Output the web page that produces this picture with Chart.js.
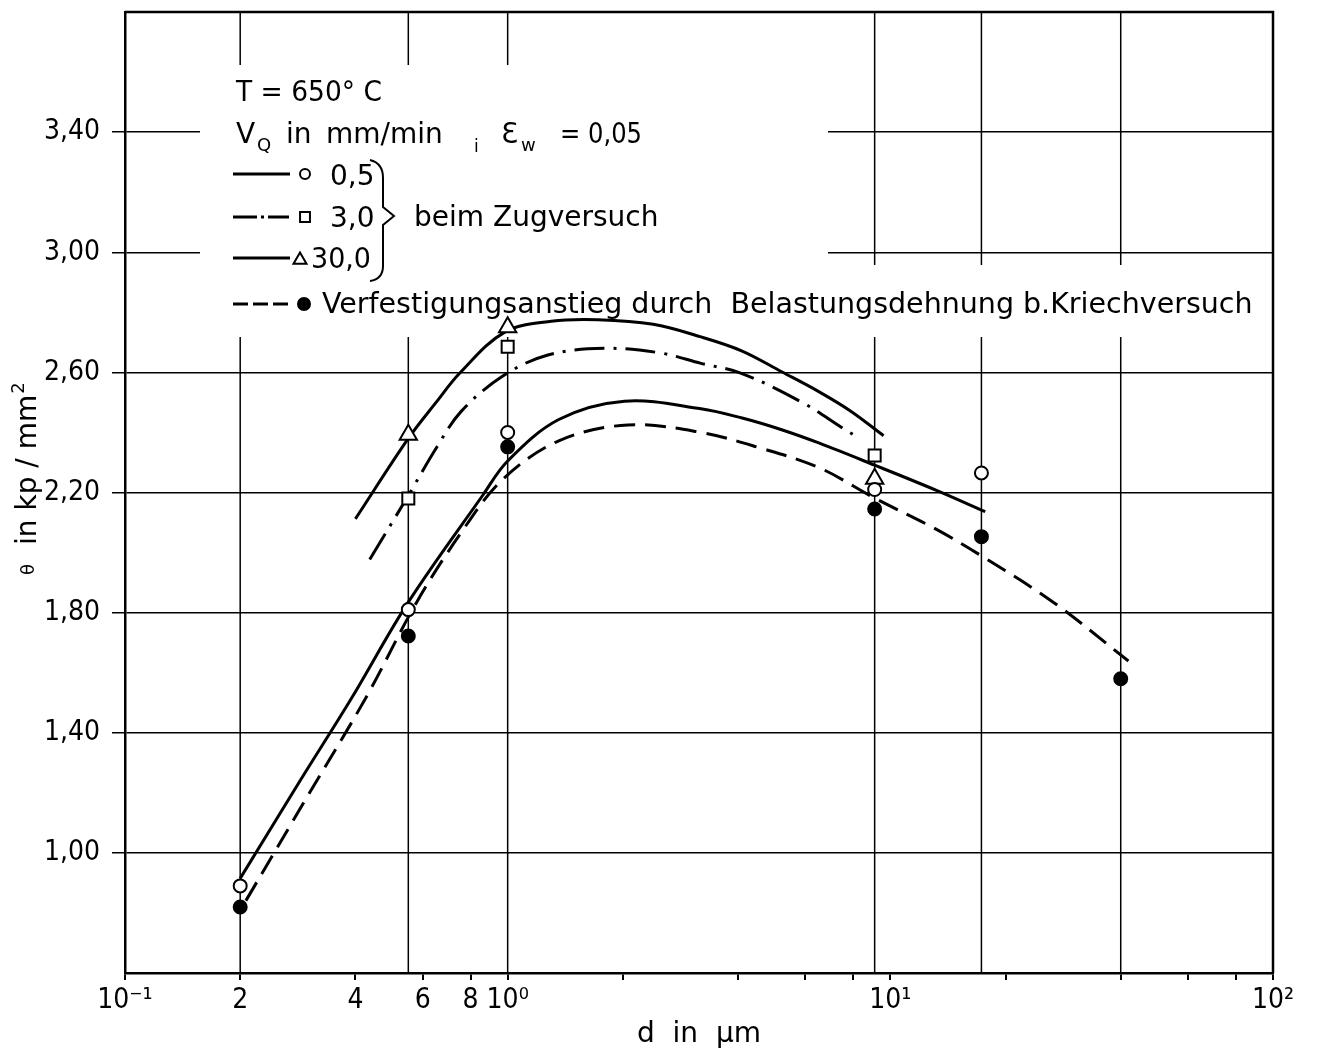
<!DOCTYPE html>
<html lang="de">
<head>
<meta charset="UTF-8">
<title>Verfestigungsanstieg über Korngröße</title>
<script src="https://cdn.jsdelivr.net/npm/chart.js@4.4.1/dist/chart.umd.min.js"></script>
<style>
    html, body { margin: 0; padding: 0; background: #fff; }
    #wrap { width: 1319px; height: 1057px; }
</style>
</head>
<body>
<div id="wrap"><canvas id="myChart"></canvas></div>
<script>
    // grain sizes d in µm of the specimens (one vertical line each)
    var dProben = [0.2, 0.55, 1.0, 9.1, 17.3, 40];

    // measured theta in kp/mm², null = no specimen at that size
    var thetaV05 = [0.89, 1.81, 2.40, 2.21, 2.265, null];
    var thetaV3 = [null, 2.18, 2.685, 2.323, null, null];
    var thetaV30 = [null, 2.392, 2.75, 2.246, null, null];
    var thetaKriech = [0.82, 1.722, 2.352, 2.145, 2.053, 1.58];

    // hand drawn mean curves
    var kurveV05D = [0.2, 0.287, 0.39, 0.55, 0.86, 1.0, 1.36, 2.02, 3.2, 4.1, 5.2, 6.5, 9.1, 13.2, 17.7];
    var kurveV05 = [0.915, 1.241, 1.513, 1.835, 2.19, 2.305, 2.443, 2.504, 2.479, 2.448, 2.409, 2.365, 2.291, 2.207, 2.136];

    var kurveV3D = [0.436, 0.55, 0.652, 0.757, 0.969, 1.274, 1.8, 2.5, 3.2, 4.08, 5.94, 7.51, 8.35];
    var kurveV3 = [1.977, 2.19, 2.35, 2.471, 2.587, 2.658, 2.68, 2.665, 2.63, 2.597, 2.497, 2.414, 2.379];

    var kurveV30D = [0.40, 0.55, 0.65, 0.75, 0.985, 1.3, 1.72, 2.4, 3.2, 4.1, 5.2, 6.5, 7.9, 9.6];
    var kurveV30 = [2.112, 2.38, 2.50, 2.598, 2.735, 2.77, 2.775, 2.76, 2.718, 2.671, 2.602, 2.536, 2.47, 2.389];

    var kurveKriechD = [0.207, 0.30, 0.428, 0.578, 0.75, 0.966, 1.36, 2.06, 3.2, 4.58, 6.53, 9.08, 13.2, 17.3, 26.7, 41.9];
    var kurveKriech = [0.841, 1.189, 1.521, 1.834, 2.06, 2.241, 2.372, 2.425, 2.40, 2.348, 2.282, 2.182, 2.077, 1.989, 1.834, 1.639];

    // axes
    var xTicks = [0.1, 0.2, 0.4, 0.6, 0.8, 1, 2, 4, 6, 8, 10, 20, 40, 60, 80, 100];
    var xTickLabels = ['10\u207B\u00B9', '2', '4', '6', '8', '10\u2070', '', '', '', '', '10\u00B9', '', '', '', '', '10\u00B2'];
    var yTicks = [1.0, 1.4, 1.8, 2.2, 2.6, 3.0, 3.4];

    var TICK_FONT = '"Liberation Sans Narrow", "DejaVu Sans Condensed", "DejaVu Sans", sans-serif';
    var TEXT_FONT = '"DejaVu Sans", sans-serif';

    function pts(xs, ys) {
        return xs.map(function (x, i) { return {x: x, y: ys[i]}; })
                 .filter(function (p) { return p.y !== null; });
    }

    function curve(label, xs, ys, dash) {
        return {
            label: label, data: pts(xs, ys), order: 2,
            borderColor: '#000', borderWidth: 3, borderDash: dash || [],
            pointRadius: 0, fill: false, tension: 0.35
        };
    }

    function marks(label, ys, style, r, fillCol) {
        return {
            label: label, data: pts(dProben, ys), order: 1, showLine: false,
            pointStyle: style, pointRadius: r, pointBorderWidth: 2,
            pointBorderColor: '#000', pointBackgroundColor: fillCol
        };
    }

    var DASH_DOT = [30, 9, 3, 9];
    var DASHED = [21, 10];

    // legend block in the upper left of the plot
    var LX = 233;
    var rows = [174, 217, 258, 304];

    var legendBox = {
        id: 'legendBox',
        beforeDatasetsDraw: function (chart) {
            var ctx = chart.ctx, a = chart.chartArea, x = chart.scales.x;
            ctx.save();
            ctx.strokeStyle = '#000';
            ctx.lineWidth = 1.5;
            dProben.forEach(function (d) {
                var px = x.getPixelForValue(d);
                ctx.beginPath();
                ctx.moveTo(px, a.top);
                ctx.lineTo(px, a.bottom);
                ctx.stroke();
            });
            // keep the grid out of the legend text
            ctx.fillStyle = '#fff';
            ctx.fillRect(200, 65, 628, 272);
            ctx.fillRect(200, 265, a.right - 203, 72);
            ctx.restore();
        },
        afterDraw: function (chart) {
            var ctx = chart.ctx, a = chart.chartArea;
            ctx.save();
            ctx.strokeStyle = '#000';
            ctx.fillStyle = '#000';

            // top and right frame
            ctx.lineWidth = 2.5;
            ctx.beginPath();
            ctx.moveTo(a.left, a.top);
            ctx.lineTo(a.right, a.top);
            ctx.lineTo(a.right, a.bottom);
            ctx.stroke();

            ctx.textBaseline = 'alphabetic';
            ctx.textAlign = 'left';
            ctx.font = '28px ' + TEXT_FONT;
            ctx.fillText('T = 650\u00B0 C', 236, 101, 146);

            ctx.fillText('V', 236, 143);
            ctx.font = '18px ' + TEXT_FONT;
            ctx.fillText('Q', 257, 151);
            ctx.font = '28px ' + TEXT_FONT;
            ctx.fillText('in', 286, 143);
            ctx.fillText('mm/min', 326, 143, 121);
            ctx.font = '17px ' + TEXT_FONT;
            ctx.fillText('i', 474, 152);
            ctx.font = '28px ' + TEXT_FONT;
            ctx.fillText('\u0190', 501, 143);
            ctx.font = '18px ' + TEXT_FONT;
            ctx.fillText('w', 521, 151);
            ctx.font = '28px ' + TEXT_FONT;
            ctx.fillText('= 0,05', 560, 143, 82);

            // line samples
            ctx.lineWidth = 3;
            ctx.beginPath();
            ctx.moveTo(LX, rows[0]); ctx.lineTo(LX + 57, rows[0]);
            ctx.moveTo(LX, rows[1]); ctx.lineTo(LX + 24, rows[1]);
            ctx.moveTo(LX + 28, rows[1]); ctx.lineTo(LX + 31, rows[1]);
            ctx.moveTo(LX + 35, rows[1]); ctx.lineTo(LX + 56, rows[1]);
            ctx.moveTo(LX, rows[2]); ctx.lineTo(LX + 57, rows[2]);
            ctx.stroke();
            ctx.setLineDash([15, 5]);
            ctx.beginPath();
            ctx.moveTo(LX, rows[3]); ctx.lineTo(LX + 59, rows[3]);
            ctx.stroke();
            ctx.setLineDash([]);

            // symbols
            var dp = Chart.helpers.drawPoint;
            ctx.lineWidth = 2;
            ctx.fillStyle = '#fff';
            dp(ctx, {pointStyle: 'circle', radius: 5, rotation: 0, borderWidth: 2}, 305, rows[0]);
            dp(ctx, {pointStyle: 'rect', radius: 7, rotation: 0, borderWidth: 2}, 305, rows[1]);
            dp(ctx, {pointStyle: 'triangle', radius: 7.5, rotation: 0, borderWidth: 2}, 300, rows[2] + 2);
            ctx.fillStyle = '#000';
            dp(ctx, {pointStyle: 'circle', radius: 6, rotation: 0, borderWidth: 1}, 304, rows[3]);

            ctx.font = '28px ' + TEXT_FONT;
            ctx.fillText('0,5', 330, 185);
            ctx.fillText('3,0', 330, 227);
            ctx.fillText('30,0', 311, 268, 60);

            // brace
            ctx.lineWidth = 2;
            ctx.beginPath();
            ctx.moveTo(370, 160);
            ctx.quadraticCurveTo(383, 163, 383, 178);
            ctx.lineTo(383, 207);
            ctx.lineTo(394, 216);
            ctx.lineTo(383, 225);
            ctx.lineTo(383, 266);
            ctx.quadraticCurveTo(383, 279, 370, 281);
            ctx.stroke();

            ctx.fillText('beim Zugversuch', 414, 226, 256);
            ctx.font = '28.5px ' + TEXT_FONT;
            ctx.fillText('Verfestigungsanstieg durch  Belastungsdehnung b.Kriechversuch', 322, 313, 935);

            // y axis title
            ctx.translate(36, 575);
            ctx.rotate(-Math.PI / 2);
            ctx.font = '18px ' + TEXT_FONT;
            ctx.fillText('\u03B8', 0, -2);
            ctx.font = '28px ' + TEXT_FONT;
            ctx.fillText('in kp / mm', 30, 0);
            var w = ctx.measureText('in kp / mm').width;
            ctx.font = '18px ' + TEXT_FONT;
            ctx.fillText('2', 30 + w + 1, -12);
            ctx.restore();
        }
    };

    var ctx = document.getElementById('myChart').getContext('2d');
    var myChart = new Chart(ctx, {
        type: 'line',
        data: {
            datasets: [
                marks('0,5', thetaV05, 'circle', 6.5, '#fff'),
                marks('3,0', thetaV3, 'rect', 8.5, '#fff'),
                marks('30,0', thetaV30, 'triangle', 10, '#fff'),
                marks('Kriechversuch', thetaKriech, 'circle', 6.5, '#000'),
                curve('0,5', kurveV05D, kurveV05),
                curve('3,0', kurveV3D, kurveV3, DASH_DOT),
                curve('30,0', kurveV30D, kurveV30),
                curve('Kriechversuch', kurveKriechD, kurveKriech, DASHED)
            ]
        },
        options: {
            responsive: true,
            maintainAspectRatio: false,
            animation: false,
            events: [],
            layout: { padding: { top: 11, right: 46, left: 0, bottom: 0 } },
            plugins: { legend: { display: false }, tooltip: { enabled: false } },
            scales: {
                x: {
                    type: 'logarithmic', min: 0.1, max: 100,
                    afterBuildTicks: function (s) {
                        s.ticks = xTicks.map(function (v) { return {value: v}; });
                    },
                    afterFit: function (s) { s.height = 84; s.paddingLeft = 0; s.paddingRight = 0; },
                    ticks: {
                        autoSkip: false, maxRotation: 0, padding: 4, color: '#000',
                        font: { family: TICK_FONT, size: 28 },
                        callback: function (v, i) { return xTickLabels[i]; }
                    },
                    grid: { drawOnChartArea: false, tickLength: 7, color: '#000', lineWidth: 2 },
                    border: { color: '#000', width: 2.5 },
                    title: {
                        display: true, text: 'd  in  \u00B5m', color: '#000',
                        font: { family: TEXT_FONT, size: 28 }, padding: { top: 0, bottom: 5 }
                    }
                },
                y: {
                    min: 0.6, max: 3.8,
                    afterBuildTicks: function (s) {
                        s.ticks = yTicks.map(function (v) { return {value: v}; });
                    },
                    afterFit: function (s) { s.width = 125; s.paddingTop = 0; s.paddingBottom = 0; },
                    ticks: {
                        padding: 12, color: '#000',
                        font: { family: TICK_FONT, size: 28 },
                        callback: function (v) { return v.toFixed(2).replace('.', ','); }
                    },
                    grid: { tickLength: 13, color: '#000', lineWidth: 1.5 },
                    border: { color: '#000', width: 2.5 }
                }
            }
        },
        plugins: [legendBox]
    });
</script>
</body>
</html>
